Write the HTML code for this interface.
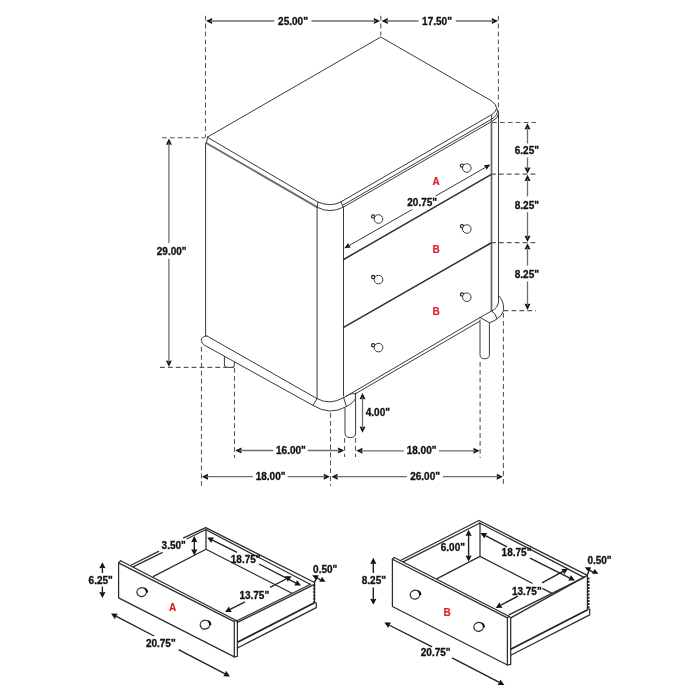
<!DOCTYPE html>
<html>
<head>
<meta charset="utf-8">
<title>Nightstand dimensions</title>
<style>
html,body{margin:0;padding:0;background:#fff;}
body{width:700px;height:700px;overflow:hidden;font-family:"Liberation Sans",sans-serif;}
svg{display:block;will-change:transform;}
.l{stroke:#3a3a3a;stroke-width:1;fill:none;stroke-linecap:round;stroke-linejoin:round;}
.t{stroke:#2e2e2e;stroke-width:1.5;fill:none;stroke-linecap:round;}
.g{stroke:#6a6a6a;stroke-width:1.8;fill:none;}
.d{stroke:#5a5a5a;stroke-width:1.1;fill:none;stroke-dasharray:4.8 3.1;}
.m{stroke:#6e6e6e;stroke-width:1.3;fill:none;}
.k{stroke:#2c2c2c;stroke-width:1.25;fill:none;stroke-linecap:round;stroke-linejoin:round;}
.n{stroke:#222;stroke-width:1.4;fill:none;}
.a{fill:#111;stroke:none;}
.w{fill:#fff;stroke:#3a3a3a;stroke-width:1;}
text{font-family:"Liberation Sans",sans-serif;font-weight:bold;font-size:10px;fill:#111;text-anchor:middle;stroke:#111;stroke-width:0.3;}
text.r{fill:#e3202b;stroke:#e3202b;stroke-width:0.2;}
</style>
</head>
<body>
<svg width="700" height="700" viewBox="0 0 700 700">
<rect width="700" height="700" fill="#fff"/>

<!-- ================= MAIN CABINET ================= -->
<g id="cabinet">
<!-- top face -->
<path class="l" d="M207.6,137 L380.8,37 L491,100.6 Q496.6,104 496.6,108.4 Q496,112 491.7,114.6 L340.7,202 Q330,207.4 317.9,202 Z"/>
<!-- top thickness lines -->
<path class="l" d="M496.6,108.4 Q498.6,110 498.6,113.5 Q498.4,118 492.6,121 L343.3,207.2 Q330,214 317.5,207.4"/>
<path class="l" d="M497.5,110.4 Q498,115.4 491.4,119.3 L342.4,205.4"/>
<path class="g" d="M206.2,143 L317.5,207.4"/>
<path class="l" d="M207.6,137 L206.4,143"/>
<path class="l" d="M317.9,202 L317.3,207.4 M340.7,202 L343.3,207 M491.7,114.8 L491.6,121"/>
<!-- body verticals -->
<path class="l" d="M205.6,143 L205.6,335.6"/>
<path class="l" d="M317.1,207.4 L317.1,398.6"/>
<path class="l" d="M343.5,207 L343.5,396"/>
<path class="g" d="M491.5,120.5 L491.5,311"/>
<path class="l" d="M498.5,113 L498.5,297"/>
<!-- drawer dividers -->
<path class="t" d="M343.6,259.5 L491,174.6"/>
<path class="t" d="M343.6,327.4 L491,243"/>
</g>

<!-- base -->
<g id="base">
<path class="l" d="M207,336 L317,398.6 Q330,405.6 343.6,397.6 L346,396.4 L480,317.5 L491.6,311"/>
<path class="l" d="M207,336 Q201,336.6 201.3,340.4 Q201.6,343.6 204.5,345.2 L313,405.4 Q330,416 346.4,406.6 Q354,402.4 355.4,398.6 L355.4,393.8 L479.6,321.3"/>
<path class="l" d="M317,398.6 L313,405.4 M343.6,397.4 L346.4,406.6 M346,396.2 Q352,392.4 355.4,394"/>
<path class="l" d="M498.5,295.5 Q503.6,300.5 503.6,308 L503.6,310.4 Q502,316 496.4,319.3 Q493,321.8 489.3,322.6 L480,317.5"/>
<path class="l" d="M498.5,297 L498.5,302 Q497.6,308.4 491.7,310.9 Q496,313.4 496.9,318.8"/>
</g>
<!-- legs -->
<g id="legs">
<path class="l" d="M224.4,356.6 L224.4,365 Q224.4,367.4 227,367.4 L232,367.4 Q234.4,367.4 234.4,365 L234.4,362.2"/>
<path class="l" d="M345,408 L345,433 Q345,437.6 350.3,437.6 Q355.6,437.6 355.6,433 L355.6,393"/>
<path class="l" d="M480,320 L480,354.4 Q480,358.8 484.7,358.8 Q489.4,358.8 489.4,354.4 L489.4,322.6"/>
</g>
<!-- knobs -->
<g id="knobs">
<circle class="w" cx="373.2" cy="216.4" r="1.6" style="stroke:#222;stroke-width:1.2"/><circle class="w" cx="378.5" cy="219" r="4.3"/>
<circle class="w" cx="373.2" cy="277" r="1.6" style="stroke:#222;stroke-width:1.2"/><circle class="w" cx="378.5" cy="279.6" r="4.3"/>
<circle class="w" cx="373.2" cy="345.2" r="1.6" style="stroke:#222;stroke-width:1.2"/><circle class="w" cx="378.5" cy="347.6" r="4.3"/>
<circle class="w" cx="462" cy="165.6" r="1.6" style="stroke:#222;stroke-width:1.2"/><circle class="w" cx="466.8" cy="168" r="4.3"/>
<circle class="w" cx="462" cy="226.2" r="1.6" style="stroke:#222;stroke-width:1.2"/><circle class="w" cx="466.8" cy="229" r="4.3"/>
<circle class="w" cx="462" cy="294.4" r="1.6" style="stroke:#222;stroke-width:1.2"/><circle class="w" cx="466.8" cy="297.2" r="4.3"/>
</g>
<!-- labels -->
<text class="r" x="436.2" y="184.6">A</text>
<text class="r" x="436.2" y="252.6">B</text>
<text class="r" x="436.2" y="314.6">B</text>

<!-- dims main -->
<g id="dims-main">
<path class="d" d="M205.5,15.7 L205.5,137.0"/>
<path class="d" d="M380.8,15.7 L380.8,35.5"/>
<path class="d" d="M498.4,15.7 L498.4,108.0"/>
<path class="d" d="M162.0,137.8 L205.3,137.8"/>
<path class="d" d="M160.0,367.4 L234.0,367.4"/>
<path class="d" d="M201.5,347.0 L201.5,485.8"/>
<path class="d" d="M234.5,368.0 L234.5,457.7"/>
<path class="d" d="M330.5,413.0 L330.5,485.8"/>
<path class="d" d="M344.6,438.0 L344.6,457.0"/>
<path class="d" d="M355.5,438.0 L355.5,457.0"/>
<path class="d" d="M480.1,362.0 L480.1,458.0"/>
<path class="d" d="M503.4,313.0 L503.4,485.6"/>
<path class="d" d="M492.0,122.5 L536.0,122.5"/>
<path class="d" d="M491.0,174.1 L536.0,174.1"/>
<path class="d" d="M491.0,242.6 L536.0,242.6"/>
<path class="d" d="M503.6,310.6 L536.0,310.6"/>
<path class="a" d="M206.0,21.0 L212.2,18.0 L211.9,21.0 L212.2,24.0 Z"/>
<path class="a" d="M380.0,21.0 L373.8,24.0 L374.1,21.0 L373.8,18.0 Z"/>
<path class="m" d="M210.0,21.0 L274.3,21.0"/>
<path class="m" d="M311.4,21.0 L376.0,21.0"/>
<text x="293.0" y="24.6">25.00&quot;</text>
<path class="a" d="M381.6,21.0 L387.8,18.0 L387.5,21.0 L387.8,24.0 Z"/>
<path class="a" d="M498.0,21.0 L491.8,24.0 L492.1,21.0 L491.8,18.0 Z"/>
<path class="m" d="M385.6,21.0 L418.6,21.0"/>
<path class="m" d="M455.7,21.0 L494.0,21.0"/>
<text x="437.0" y="24.6">17.50&quot;</text>
<path class="a" d="M168.9,138.5 L171.9,144.7 L168.9,144.4 L165.9,144.7 Z"/>
<path class="a" d="M168.9,366.8 L165.9,360.6 L168.9,360.9 L171.9,360.6 Z"/>
<path class="m" d="M168.9,142.5 L168.9,243.0"/>
<path class="m" d="M168.9,258.8 L168.9,362.8"/>
<text x="171.7" y="254.9">29.00&quot;</text>
<path class="a" d="M235.3,450.5 L241.5,447.5 L241.2,450.5 L241.5,453.5 Z"/>
<path class="a" d="M344.2,450.5 L338.0,453.5 L338.3,450.5 L338.0,447.5 Z"/>
<path class="m" d="M239.3,450.5 L273.4,450.5"/>
<path class="m" d="M307.7,450.5 L340.2,450.5"/>
<text x="290.9" y="454.1">16.00&quot;</text>
<path class="a" d="M356.3,450.8 L362.5,447.8 L362.2,450.8 L362.5,453.8 Z"/>
<path class="a" d="M479.6,450.8 L473.4,453.8 L473.7,450.8 L473.4,447.8 Z"/>
<path class="m" d="M360.3,450.8 L403.8,450.8"/>
<path class="m" d="M439.0,450.8 L475.6,450.8"/>
<text x="421.6" y="454.4">18.00&quot;</text>
<path class="a" d="M201.9,476.7 L208.1,473.7 L207.8,476.7 L208.1,479.7 Z"/>
<path class="a" d="M329.9,476.7 L323.7,479.7 L324.0,476.7 L323.7,473.7 Z"/>
<path class="m" d="M205.9,476.7 L252.9,476.7"/>
<path class="m" d="M287.8,476.7 L325.9,476.7"/>
<text x="270.6" y="480.3">18.00&quot;</text>
<path class="a" d="M331.5,476.7 L337.7,473.7 L337.4,476.7 L337.7,479.7 Z"/>
<path class="a" d="M502.9,476.7 L496.7,479.7 L497.0,476.7 L496.7,473.7 Z"/>
<path class="m" d="M335.5,476.7 L406.9,476.7"/>
<path class="m" d="M442.9,476.7 L498.9,476.7"/>
<text x="425.1" y="480.3">26.00&quot;</text>
<path class="a" d="M527.5,123.2 L530.5,129.4 L527.5,129.1 L524.5,129.4 Z"/>
<path class="a" d="M527.5,173.6 L524.5,167.4 L527.5,167.7 L530.5,167.4 Z"/>
<path class="m" d="M527.5,127.2 L527.5,143.5"/>
<path class="m" d="M527.5,157.5 L527.5,169.6"/>
<text x="526.9" y="153.5">6.25&quot;</text>
<path class="a" d="M527.5,174.8 L530.5,181.0 L527.5,180.7 L524.5,181.0 Z"/>
<path class="a" d="M527.5,242.0 L524.5,235.8 L527.5,236.1 L530.5,235.8 Z"/>
<path class="m" d="M527.5,178.8 L527.5,196.4"/>
<path class="m" d="M527.5,212.2 L527.5,238.0"/>
<text x="526.9" y="208.5">8.25&quot;</text>
<path class="a" d="M527.5,243.2 L530.5,249.4 L527.5,249.1 L524.5,249.4 Z"/>
<path class="a" d="M527.5,310.0 L524.5,303.8 L527.5,304.1 L530.5,303.8 Z"/>
<path class="m" d="M527.5,247.2 L527.5,265.6"/>
<path class="m" d="M527.5,281.4 L527.5,306.0"/>
<text x="526.9" y="277.8">8.25&quot;</text>
<path class="a" d="M362.5,393.0 L365.5,399.2 L362.5,398.9 L359.5,399.2 Z"/>
<path class="a" d="M362.5,432.8 L359.5,426.6 L362.5,426.9 L365.5,426.6 Z"/>
<path class="m" d="M362.5,397.0 L362.5,429.0"/>
<text x="377.9" y="416.4">4.00&quot;</text>
<path class="a" d="M344.3,248.3 L348.2,243.1 L349.2,245.5 L350.8,247.6 Z"/>
<path class="a" d="M490.4,164.6 L486.5,169.8 L485.5,167.4 L483.9,165.3 Z"/>
<path class="l" d="M348.0,246.2 L412.0,209.6"/>
<path class="l" d="M436.0,195.8 L487.0,166.5"/>
<text x="422.2" y="205.9">20.75&quot;</text>
</g>
<!-- drawer A -->
<g id="drawerA">
<path class="k" d="M118.6,562.9 L118.6,597.9 L234.3,656.9 L234.3,621.6 Z"/>
<path class="k" d="M118.6,562.9 L120.7,560.7 L235.8,620.2 L237.4,622 L237.4,656.3 L234.3,656.9"/>
<path class="k" d="M234.3,621.6 L235.8,620.2"/>
<path class="k" d="M131.4,565 L158.6,551.4 M183.6,537.9 L205.7,527.6"/>
<path class="k" d="M133.6,566.6 L162.1,552.6 M187.1,538.8 L206,529.5"/>
<path class="k" d="M205.7,527.6 L314.5,582.5"/>
<path class="k" d="M206,529.8 L310.6,584.5"/>
<path class="k" d="M206,529.5 L206,549.3 M153.6,576.4 L206,549.3 L291.5,593"/>
<path class="k" d="M314.5,584.4 L237.4,622.4"/>
<path class="k" d="M310.6,584.2 L237,620.8"/>
<path class="k" d="M314.5,582.5 L314.5,602.5"/>
<path d="M314.2,584.5 L314.2,602" stroke="#222" stroke-width="2" stroke-dasharray="2 1.3" fill="none"/>
<path d="M314.5,602.8 L237.4,642.3" stroke="#222" stroke-width="1.8" fill="none"/>
<path class="k" d="M314.5,602.5 L316.3,603 L316.3,607.6 L237.4,648"/>
<g transform="translate(141.7,592.1)"><ellipse cx="0" cy="0" rx="4.8" ry="4.4" transform="rotate(-15)" fill="#fff" stroke="#2c2c2c" stroke-width="1.25"/><path d="M1.9,-4.6 Q6.4,-4 6.4,0.5 L4.7,0.6 Q4.4,-2.4 1.9,-4.6 Z" fill="#111"/></g>
<g transform="translate(205.0,624.7)"><ellipse cx="0" cy="0" rx="4.8" ry="4.4" transform="rotate(-15)" fill="#fff" stroke="#2c2c2c" stroke-width="1.25"/><path d="M1.9,-4.6 Q6.4,-4 6.4,0.5 L4.7,0.6 Q4.4,-2.4 1.9,-4.6 Z" fill="#111"/></g>
<text class="r" x="172.6" y="611.0">A</text>
<path class="a" d="M102.4,562.2 L105.5,568.3 L102.4,567.8 L99.3,568.3 Z"/>
<path class="a" d="M102.4,598.0 L99.3,591.9 L102.4,592.4 L105.5,591.9 Z"/>
<path class="n" d="M102.4,566.0 L102.4,573.0"/>
<path class="n" d="M102.4,586.5 L102.4,594.0"/>
<text x="100.7" y="583.5">6.25&quot;</text>
<path class="a" d="M194.3,536.1 L197.4,542.2 L194.3,541.7 L191.2,542.2 Z"/>
<path class="a" d="M194.3,555.4 L191.2,549.3 L194.3,549.8 L197.4,549.3 Z"/>
<path class="n" d="M194.3,540.0 L194.3,551.5"/>
<text x="173.7" y="549.4">3.50&quot;</text>
<path class="a" d="M207.2,537.4 L214.0,537.4 L212.2,539.9 L211.3,542.9 Z"/>
<path class="a" d="M301.0,585.6 L294.2,585.6 L296.0,583.1 L296.9,580.1 Z"/>
<path class="n" d="M211.0,539.4 L237.0,552.4"/>
<path class="n" d="M259.0,564.0 L297.5,583.8"/>
<text x="245.7" y="563.2">18.75&quot;</text>
<path class="a" d="M291.6,576.2 L287.6,581.7 L286.6,578.7 L284.8,576.2 Z"/>
<path class="a" d="M225.0,612.0 L229.0,606.5 L230.0,609.5 L231.8,612.0 Z"/>
<path class="n" d="M288.0,578.0 L270.0,587.4"/>
<path class="n" d="M245.0,601.8 L228.6,610.2"/>
<text x="254.3" y="599.2">13.75&quot;</text>
<text x="325.2" y="572.5">0.50&quot;</text>
<path class="a" d="M312.2,575.2 L318.7,575.2 L317,579.6 L315.6,579.4 Z"/>
<path class="a" d="M322,577 L319.3,581.7 L325.5,581.7 Z"/>
<path class="n" d="M317.0,578.0 L320.5,579.8"/>
<path class="n" d="M316.3,579.2 L314.2,582.3"/>
<path class="a" d="M111.0,613.6 L117.8,613.7 L116.0,616.2 L115.0,619.2 Z"/>
<path class="a" d="M230.0,676.4 L223.2,676.3 L225.0,673.8 L226.0,670.8 Z"/>
<path class="n" d="M114.5,615.4 L154.0,636.0"/>
<path class="n" d="M178.5,649.6 L226.6,674.6"/>
<text x="160.8" y="647.2">20.75&quot;</text>
</g>
<!-- drawer B -->
<g id="drawerB">
<path class="k" d="M392.4,559.3 L392.4,606.5 L507.4,665 L507.4,617.9 Z"/>
<path class="k" d="M392.4,559.3 L394.3,557.5 L508.9,616.3 L510.7,617.9 L510.7,664.3 L507.4,665"/>
<path class="k" d="M507.4,617.9 L508.9,616.3"/>
<path class="k" d="M401.4,560 L479,520.5"/>
<path class="k" d="M403.6,561.6 L479.6,523.2"/>
<path class="k" d="M479,520.5 L587.4,575.4"/>
<path class="k" d="M479.6,523 L584,577.4"/>
<path class="k" d="M480,523 L480,556.4 M437.1,578.6 L480,556.4 L532.1,583.2 M542.8,588.6 L551.6,593.1"/>
<path class="k" d="M587.4,575.4 L510.7,617.9"/>
<path class="k" d="M584,577.4 L509.4,614.6"/>
<path class="k" d="M587.4,575.4 L587.4,608.8"/>
<path d="M588.3,577.5 L588.3,608.6" stroke="#222" stroke-width="2.4" stroke-dasharray="2 1.2" fill="none"/>
<path d="M587.6,609.8 L510.7,649.2" stroke="#222" stroke-width="1.8" fill="none"/>
<path class="k" d="M587.6,608.8 L589.7,609.2 L589.7,614.9 L510.7,655.2"/>
<g transform="translate(415.0,594.6)"><ellipse cx="0" cy="0" rx="4.8" ry="4.4" transform="rotate(-15)" fill="#fff" stroke="#2c2c2c" stroke-width="1.25"/><path d="M1.9,-4.6 Q6.4,-4 6.4,0.5 L4.7,0.6 Q4.4,-2.4 1.9,-4.6 Z" fill="#111"/></g>
<g transform="translate(478.6,626.9)"><ellipse cx="0" cy="0" rx="4.8" ry="4.4" transform="rotate(-15)" fill="#fff" stroke="#2c2c2c" stroke-width="1.25"/><path d="M1.9,-4.6 Q6.4,-4 6.4,0.5 L4.7,0.6 Q4.4,-2.4 1.9,-4.6 Z" fill="#111"/></g>
<text class="r" x="447.0" y="615.5">B</text>
<path class="a" d="M373.3,557.8 L376.4,563.9 L373.3,563.4 L370.2,563.9 Z"/>
<path class="a" d="M373.3,604.8 L370.2,598.7 L373.3,599.2 L376.4,598.7 Z"/>
<path class="n" d="M373.3,562.0 L373.3,573.0"/>
<path class="n" d="M373.3,587.5 L373.3,600.5"/>
<text x="373.9" y="583.6">8.25&quot;</text>
<path class="a" d="M468.6,529.8 L471.7,535.9 L468.6,535.4 L465.5,535.9 Z"/>
<path class="a" d="M468.6,561.6 L465.5,555.5 L468.6,556.0 L471.7,555.5 Z"/>
<path class="n" d="M468.6,534.0 L468.6,557.5"/>
<text x="452.9" y="551.0">6.00&quot;</text>
<path class="a" d="M480.4,533.0 L487.2,533.0 L485.4,535.5 L484.5,538.5 Z"/>
<path class="a" d="M574.9,580.6 L568.1,580.6 L569.9,578.1 L570.8,575.1 Z"/>
<path class="n" d="M484.0,534.8 L507.0,546.8"/>
<path class="n" d="M530.0,558.2 L571.4,578.9"/>
<text x="516.5" y="556.0">18.75&quot;</text>
<path class="a" d="M568.0,568.8 L564.1,574.4 L563.1,571.4 L561.2,568.9 Z"/>
<path class="a" d="M495.7,607.9 L499.6,602.3 L500.6,605.3 L502.5,607.8 Z"/>
<path class="n" d="M564.4,570.6 L542.0,582.8"/>
<path class="n" d="M518.0,596.2 L499.2,606.0"/>
<text x="526.8" y="594.6">13.75&quot;</text>
<text x="599.5" y="563.6">0.50&quot;</text>
<path class="a" d="M584.8,567.2 L590.9,567.2 L589.6,571.6 L588.2,571.4 Z"/>
<path class="a" d="M594.7,569.1 L592,573.8 L598.4,573.8 Z"/>
<path class="n" d="M589.6,570.2 L593.4,572.3"/>
<path class="n" d="M588.8,571.3 L587.2,575.0"/>
<path class="a" d="M384.3,622.6 L391.1,622.6 L389.3,625.1 L388.3,628.1 Z"/>
<path class="a" d="M504.3,685.0 L497.5,684.9 L499.3,682.4 L500.3,679.4 Z"/>
<path class="n" d="M388.0,624.5 L432.1,646.9"/>
<path class="n" d="M452.1,657.9 L500.8,683.2"/>
<text x="435.7" y="656.1">20.75&quot;</text>
</g>
</svg>
</body>
</html>
